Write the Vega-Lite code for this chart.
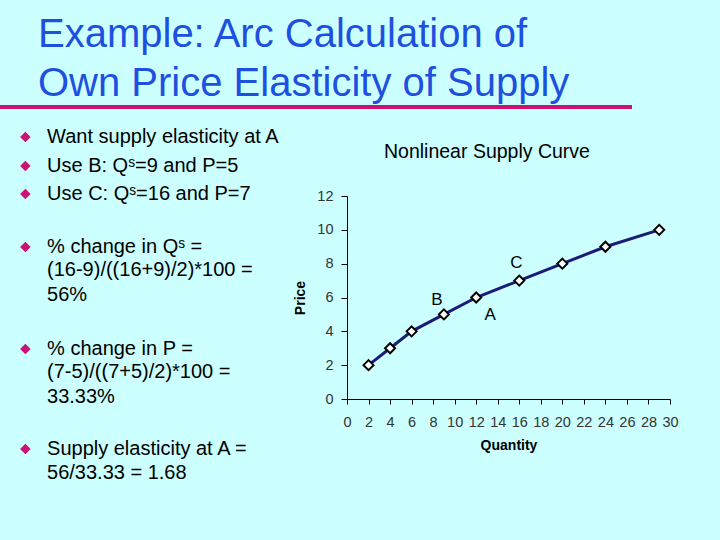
{
  "$schema": "https://vega.github.io/schema/vega-lite/v6.json",
  "width": 323,
  "height": 203,
  "autosize": "none",
  "padding": {"left": 347, "top": 196, "right": 50, "bottom": 141},
  "background": "#CCFFFF",
  "config": {"view": {"stroke": null}, "font": "Liberation Sans"},
  "datasets": {
    "supply": [
      {"q": 2, "p": 2, "label": ""},
      {"q": 4, "p": 3, "label": ""},
      {"q": 6, "p": 4, "label": ""},
      {"q": 9, "p": 5, "label": "B"},
      {"q": 12, "p": 6, "label": "A"},
      {"q": 16, "p": 7, "label": "C"},
      {"q": 20, "p": 8, "label": ""},
      {"q": 24, "p": 9, "label": ""},
      {"q": 29, "p": 10, "label": ""}
    ],
    "heading": [
      {"q": -28.7, "p": 20.81, "t": "Example: Arc Calculation of"},
      {"q": -28.7, "p": 17.91, "t": "Own Price Elasticity of Supply"}
    ],
    "underline": [
      {"q": -32.23, "q2": 26.47, "p": 17.26}
    ],
    "bullets": [
      {"q": -29.87, "p": 15.49},
      {"q": -29.87, "p": 13.78},
      {"q": -29.87, "p": 12.12},
      {"q": -29.87, "p": 8.99},
      {"q": -29.87, "p": 2.96},
      {"q": -29.87, "p": -2.95}
    ],
    "lines": [
      {"q": -27.86, "p": 15.13, "t": "Want supply elasticity at A"},
      {"q": -27.86, "p": 13.42, "t": "Use B: Qˢ=9 and P=5"},
      {"q": -27.86, "p": 11.76, "t": "Use C: Qˢ=16 and P=7"},
      {"q": -27.86, "p": 8.63, "t": "% change in Qˢ ="},
      {"q": -27.86, "p": 7.27, "t": "(16-9)/((16+9)/2)*100 ="},
      {"q": -27.86, "p": 5.79, "t": "56%"},
      {"q": -27.86, "p": 2.6, "t": "% change in P ="},
      {"q": -27.86, "p": 1.27, "t": "(7-5)/((7+5)/2)*100 ="},
      {"q": -27.86, "p": -0.21, "t": "33.33%"},
      {"q": -27.86, "p": -3.31, "t": "Supply elasticity at A ="},
      {"q": -27.86, "p": -4.73, "t": "56/33.33 = 1.68"}
    ],
    "charttitle": [
      {"q": 13.0, "p": 14.25, "t": "Nonlinear Supply Curve"}
    ]
  },
  "encoding": {
    "x": {
      "field": "q", "type": "quantitative",
      "scale": {"domain": [0, 30], "nice": false, "zero": false},
      "axis": {
        "title": "Quantity", "values": [0,2,4,6,8,10,12,14,16,18,20,22,24,26,28,30],
        "grid": false, "domainColor": "#000000", "tickColor": "#000000", "tickSize": 5,
        "labelFont": "Liberation Sans", "labelFontSize": 14.5, "labelColor": "#333333", "labelPadding": 11, "labelFlush": false,
        "titleFontSize": 14, "titleFontWeight": "bold", "titleColor": "#000000", "titlePadding": 10
      }
    },
    "y": {
      "field": "p", "type": "quantitative",
      "scale": {"domain": [0, 12], "nice": false, "zero": false},
      "axis": {
        "title": "Price", "values": [0,2,4,6,8,10,12],
        "grid": false, "domainColor": "#000000", "tickColor": "#000000", "tickSize": 6,
        "labelFont": "Liberation Sans", "labelFontSize": 14.5, "labelColor": "#333333", "labelPadding": 8, "labelFlush": false,
        "titleFontSize": 14, "titleFontWeight": "bold", "titleColor": "#000000", "titlePadding": 9
      }
    }
  },
  "layer": [
    {
      "data": {"name": "underline"},
      "mark": {"type": "rule", "color": "#CC1177", "strokeWidth": 4},
      "encoding": {"x2": {"field": "q2"}}
    },
    {
      "data": {"name": "heading"},
      "mark": {"type": "text", "align": "left", "baseline": "alphabetic", "fontSize": 40, "color": "#1E50E0", "font": "Liberation Sans"},
      "encoding": {"text": {"field": "t"}}
    },
    {
      "data": {"name": "bullets"},
      "mark": {"type": "point", "shape": "diamond", "filled": true, "size": 110, "color": "#CC1177", "opacity": 1},
      "encoding": {}
    },
    {
      "data": {"name": "lines"},
      "mark": {"type": "text", "align": "left", "baseline": "alphabetic", "fontSize": 20, "color": "#000000", "font": "Liberation Sans"},
      "encoding": {"text": {"field": "t"}}
    },
    {
      "data": {"name": "charttitle"},
      "mark": {"type": "text", "align": "center", "baseline": "alphabetic", "fontSize": 19.5, "color": "#000000", "font": "Liberation Sans"},
      "encoding": {"text": {"field": "t"}}
    },
    {
      "data": {"name": "supply"},
      "mark": {"type": "line", "color": "#1C1C78", "strokeWidth": 3},
      "encoding": {}
    },
    {
      "data": {"name": "supply"},
      "mark": {"type": "point", "shape": "diamond", "filled": true, "fill": "#FFFFFF", "stroke": "#000000", "strokeWidth": 2, "size": 100, "opacity": 1},
      "encoding": {}
    },
    {
      "data": {"name": "supply"},
      "transform": [{"filter": "datum.label == 'B'"}],
      "mark": {"type": "text", "fontSize": 17, "color": "#000000", "dx": -7, "dy": -14, "align": "center", "baseline": "middle"},
      "encoding": {"text": {"field": "label"}}
    },
    {
      "data": {"name": "supply"},
      "transform": [{"filter": "datum.label == 'C'"}],
      "mark": {"type": "text", "fontSize": 17, "color": "#000000", "dx": -3, "dy": -18, "align": "center", "baseline": "middle"},
      "encoding": {"text": {"field": "label"}}
    },
    {
      "data": {"name": "supply"},
      "transform": [{"filter": "datum.label == 'A'"}],
      "mark": {"type": "text", "fontSize": 17, "color": "#000000", "dx": 14, "dy": 17, "align": "center", "baseline": "middle"},
      "encoding": {"text": {"field": "label"}}
    }
  ]
}
